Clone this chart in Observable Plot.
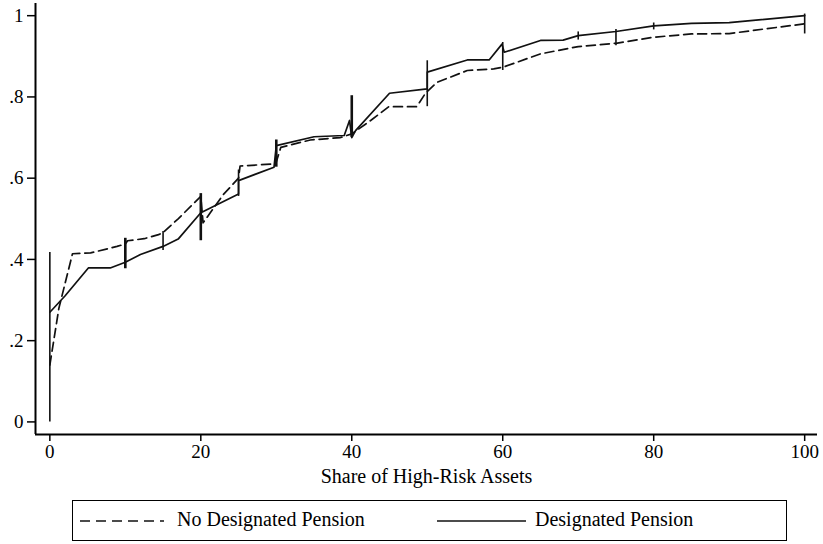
<!DOCTYPE html>
<html>
<head>
<meta charset="utf-8">
<script src="https://cdn.jsdelivr.net/npm/d3@7"></script>
<script src="https://cdn.jsdelivr.net/npm/@observablehq/plot@0.6"></script>
<style>
  html, body { margin: 0; padding: 0; background: #fff; }
  #wrap { position: relative; width: 823px; height: 544px; font-family: "Liberation Serif", "DejaVu Serif", serif; }
  #legend { position: absolute; left: 72px; top: 500px; width: 713px; height: 39px; border: 1.5px solid #000; }
  #legend span { position: absolute; top: 6px; font-size: 20px; line-height: 24px; color: #000; white-space: nowrap; }
  #legend svg { position: absolute; top: 0; left: 0; }
</style>
</head>
<body>
<div id="wrap"></div>
<script>
// ---- data ----
const xTicks = [0, 20, 40, 60, 80, 100];
const yTicks = [0, 0.2, 0.4, 0.6, 0.8, 1];
const xDomain = [-1.9, 101.7];
const yDomain = [-0.031, 1.03];
const xTitle = "Share of High-Risk Assets";
const seriesNames = ["No Designated Pension", "Designated Pension"];

// No Designated Pension (dashed)
const noDesX = [0, 1.2, 3, 5.4, 8.9, 10, 10.3, 12.5, 14.4, 15, 17, 20, 20.3, 23, 25, 25.2, 29.7, 30, 30.6, 34.5, 38.5, 40, 42.5, 44.9, 48.6, 49.8, 51.3, 55.3, 58.8, 60, 65, 70, 75, 80, 85, 90, 100];
const noDesY = [0.14, 0.28, 0.414, 0.416, 0.432, 0.438, 0.446, 0.451, 0.461, 0.466, 0.5, 0.555, 0.49, 0.56, 0.6, 0.63, 0.635, 0.64, 0.676, 0.694, 0.7, 0.709, 0.742, 0.776, 0.776, 0.81, 0.836, 0.865, 0.869, 0.873, 0.906, 0.924, 0.932, 0.947, 0.955, 0.956, 0.98];

// Designated Pension (solid)
const desX = [0, 2, 5.1, 8, 10, 12, 15, 17, 20, 25, 25, 29.7, 30, 35, 39, 39.7, 40, 40.5, 45, 50, 50, 55.3, 58.2, 59.9, 60.2, 65, 68, 70, 75, 80, 85, 90, 100];
const desY = [0.27, 0.31, 0.379, 0.379, 0.393, 0.412, 0.432, 0.45, 0.515, 0.561, 0.594, 0.627, 0.68, 0.702, 0.705, 0.742, 0.7, 0.717, 0.809, 0.82, 0.861, 0.891, 0.891, 0.93, 0.91, 0.939, 0.94, 0.951, 0.961, 0.975, 0.981, 0.983, 1.0];

// vertical spikes of the Designated Pension curve
const bigSpikeX  = [10, 20, 30, 40];
const bigSpikeLo = [0.377, 0.446, 0.627, 0.70];
const bigSpikeHi = [0.452, 0.562, 0.694, 0.803];
const smallSpikeX  = [0, 15, 25, 50, 60, 70, 75, 80, 100];
const smallSpikeLo = [0, 0.422, 0.555, 0.776, 0.865, 0.94, 0.926, 0.965, 0.955];
const smallSpikeHi = [0.417, 0.469, 0.62, 0.889, 0.934, 0.96, 0.966, 0.982, 1.004];

// ---- build tables ----
const noDes = noDesX.map((x, i) => ({x, y: noDesY[i]}));
const des = desX.map((x, i) => ({x, y: desY[i]}));
const bigSpikes = bigSpikeX.map((x, i) => ({x, y1: bigSpikeLo[i], y2: bigSpikeHi[i]}));
const smallSpikes = smallSpikeX.map((x, i) => ({x, y1: smallSpikeLo[i], y2: smallSpikeHi[i]}));

const fmtY = d => d === 0 ? "0" : d === 1 ? "1" : String(d).replace(/^0/, "");

const chart = Plot.plot({
  width: 823,
  height: 495,
  marginLeft: 35,
  marginRight: 6,
  marginTop: 3,
  marginBottom: 61,
  style: {fontFamily: "Liberation Serif", fontSize: "19px", color: "#000", background: "#fff", overflow: "visible"},
  x: {domain: xDomain, label: null},
  y: {domain: yDomain, label: null},
  marks: [
    Plot.axisX({ticks: xTicks, tickSize: 7, tickPadding: 3, tickFormat: d => String(d), fontSize: 19, label: null, strokeWidth: 1.5}),
    Plot.axisY({ticks: yTicks, tickSize: 8, tickPadding: 4, tickFormat: fmtY, fontSize: 19, label: null, strokeWidth: 1.5}),
    Plot.ruleX([xDomain[0]], {stroke: "#000", strokeWidth: 2}),
    Plot.ruleY([yDomain[0]], {stroke: "#000", strokeWidth: 2}),
    Plot.line(noDes, {x: "x", y: "y", stroke: "#111", strokeWidth: 1.7, strokeDasharray: "9,5"}),
    Plot.line(des, {x: "x", y: "y", stroke: "#111", strokeWidth: 1.7}),
    Plot.ruleX(bigSpikes, {x: "x", y1: "y1", y2: "y2", stroke: "#111", strokeWidth: 2.6}),
    Plot.ruleX(smallSpikes, {x: "x", y1: "y1", y2: "y2", stroke: "#111", strokeWidth: 1.6}),
    Plot.text([xTitle], {frameAnchor: "bottom", dy: 48, fontSize: 20, fill: "#000"})
  ]
});

const wrap = document.getElementById("wrap");
wrap.appendChild(chart);

const legend = document.createElement("div");
legend.id = "legend";
legend.innerHTML = `
  <svg width="713" height="39">
    <line x1="7" x2="91" y1="20" y2="20" stroke="#111" stroke-width="1.6" stroke-dasharray="10,6"></line>
    <line x1="364" x2="453" y1="20" y2="20" stroke="#111" stroke-width="1.6"></line>
  </svg>
  <span style="left:104px">${seriesNames[0]}</span>
  <span style="left:462px">${seriesNames[1]}</span>`;
wrap.appendChild(legend);
</script>
</body>
</html>
